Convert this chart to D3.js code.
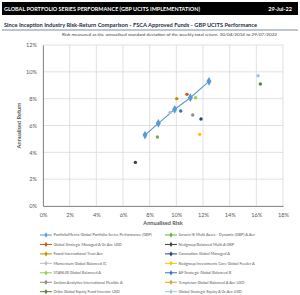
<!DOCTYPE html>
<html><head><meta charset="utf-8">
<script src="https://cdn.jsdelivr.net/npm/d3@7"></script>
<style>
html,body{margin:0;padding:0;background:#fff;}
svg{display:block;font-family:Lato,"Open Sans",sans-serif;}
</style></head>
<body><svg id="c" width="300" height="295"></svg>
<script>
const headerTitle = "GLOBAL PORTFOLIO SERIES PERFORMANCE (GBP UCITS IMPLEMENTATION)";
const headerDate = "29-Jul-22";
const subTitle = "Since Inception Industry Risk-Return Comparison - FSCA Approved Funds - GBP UCITS Performance";
const note = "Risk measured as the annualised standard deviation of the weekly total return, 30/04/2014 to 29/07/2022";
const xTicks = [0,2,4,6,8,10,12,14,16,18];
const yTicks = [0,2,4,6,8,10,12];

// PortfolioMetrix line series (risk %, return %)
const pmRisk = [7.65, 8.65, 9.88, 11.05, 12.45];
const pmReturn = [5.29, 6.16, 7.21, 8.07, 9.29];

// Peer funds
const fundNames = [
  "Global Strategic Managed A Gr Acc USD",
  "Foord International Trust Acc",
  "Momentum Global Balanced IC",
  "STANLIB Global Balanced A",
  "Sanlam Analytics International Flexible A",
  "Orbis Global Equity Fund Investor USD",
  "Sarasin IE Multi Asset - Dynamic (GBP) A Acc",
  "Nedgroup Balanced Multi A GBP",
  "Coronation Global Managed A",
  "Nedgroup Investments Core Global Feeder A",
  "AF Strategic Global Balanced B",
  "Templeton Global Balanced A Acc USD",
  "Global Strategic Equity A Gr Acc USD"
];
const fundRisk =   [10.8, 10.03, 9.53, 11.45, 11.23, 16.3, 8.58, 6.93, 11.85, 11.75, 10.33, null, 16.13];
const fundReturn = [8.32, 8.0,  6.98, 8.07, 6.78, 9.09, 5.14, 3.25, 6.48, 5.34, 7.08, null, 9.71];
const fundColors = ["#C55A11","#BF9000","#BFBFBF","#92D050","#8C8C8C","#548235","#70AD47","#404040","#264478","#FFC000","#2E75B6","#D6A628","#9DC3E6"];

const pmName = "PortfolioMetrix Global Portfolio Series Performance (GBP)";
const pmColor = "#5B9BD5";

const svg = d3.select("#c");
// header
svg.append("rect").attr("x",2).attr("y",2).attr("width",296).attr("height",13).attr("fill","#000");
svg.append("text").attr("x",4).attr("y",11).attr("fill","#fff").attr("font-size",5.6).attr("font-weight","bold")
  .attr("textLength",196).attr("lengthAdjust","spacingAndGlyphs").text(headerTitle);
svg.append("text").attr("x",292).attr("y",11).attr("fill","#fff").attr("font-size",5.6).attr("font-weight","bold")
  .attr("text-anchor","end").text(headerDate);
svg.append("text").attr("x",4).attr("y",27).attr("fill","#1F2A4A").attr("font-size",5.6).attr("font-weight","bold")
  .attr("textLength",253).attr("lengthAdjust","spacingAndGlyphs").text(subTitle);
svg.append("line").attr("x1",2).attr("x2",298).attr("y1",30).attr("y2",30).attr("stroke","#5A6E8C").attr("stroke-width",0.8);
svg.append("text").attr("x",62).attr("y",36).attr("fill","#404040").attr("font-size",4.2)
  .attr("textLength",215).attr("lengthAdjust","spacingAndGlyphs").text(note);

const x = d3.scaleLinear().domain([0,18]).range([43,283]);
const y = d3.scaleLinear().domain([0,12]).range([206,45]);

const g = svg.append("g");
g.selectAll("line.vg").data(xTicks).join("line").attr("x1",d=>x(d)).attr("x2",d=>x(d))
  .attr("y1",y(0)).attr("y2",y(12)).attr("stroke","#D9D9D9").attr("stroke-width",0.8);
g.selectAll("line.hg").data(yTicks).join("line").attr("x1",x(0)).attr("x2",x(18))
  .attr("y1",d=>y(d)).attr("y2",d=>y(d)).attr("stroke","#D9D9D9").attr("stroke-width",0.8);

const xAxis = svg.append("g").attr("transform",`translate(0,${y(0)})`)
  .call(d3.axisBottom(x).tickValues(xTicks).tickSize(0).tickPadding(6).tickFormat(d=>d+"%"));
const yAxis = svg.append("g").attr("transform",`translate(${x(0)},0)`)
  .call(d3.axisLeft(y).tickValues(yTicks).tickSize(0).tickPadding(6).tickFormat(d=>d+"%"));
[xAxis,yAxis].forEach(a=>{
  a.select(".domain").attr("stroke","#808080").attr("stroke-width",0.9);
  a.selectAll("text").attr("fill","#595959").attr("font-size",5.6).attr("font-family","Lato,sans-serif");
});
xAxis.selectAll("text").attr("dy","0.9em");

svg.append("text").attr("x",163).attr("y",225).attr("text-anchor","middle").attr("fill","#595959")
  .attr("font-size",5.6).attr("font-weight","bold").text("Annualised Risk");
svg.append("text").attr("transform",`translate(21,${(y(0)+y(12))/2}) rotate(-90)`).attr("text-anchor","middle")
  .attr("fill","#595959").attr("font-size",5.6).attr("font-weight","bold").text("Annualised Return");

// PM line
const pm = pmRisk.map((r,i)=>[r,pmReturn[i]]);
svg.append("path").datum(pm).attr("fill","none").attr("stroke",pmColor).attr("stroke-width",1.1)
  .attr("d",d3.line().x(d=>x(d[0])).y(d=>y(d[1])));
const diamond = d3.symbol().type(d3.symbolDiamond);
svg.selectAll("path.pm").data(pm).join("path").attr("class","pm")
  .attr("transform",d=>`translate(${x(d[0])},${y(d[1])})`).attr("d",diamond.size(22)()).attr("fill",pmColor);

// fund points
const funds = fundNames.map((n,i)=>({n, r:fundRisk[i], v:fundReturn[i], c:fundColors[i]}));
svg.selectAll("circle.f").data(funds.filter(d=>d.r!=null)).join("circle")
  .attr("cx",d=>x(d.r)).attr("cy",d=>y(d.v)).attr("r",1.7).attr("fill",d=>d.c);

// legend
const legendItems = [{n:pmName,c:pmColor}].concat(funds.map(d=>({n:d.n,c:d.c})));
const order = [0,1,2,3,4,5,6, 7,8,9,10,11,12,13];
const leftNames = [pmName, fundNames[0], fundNames[1], fundNames[2], fundNames[3], fundNames[4], fundNames[5]];
const lg = svg.append("g");
legendItems.forEach((it,i)=>{
  const col = i<7?0:1, row = i%7;
  const lx = col===0?40:165, ly = 235+row*9.45;
  lg.append("line").attr("x1",lx).attr("x2",lx+12).attr("y1",ly).attr("y2",ly).attr("stroke",it.c).attr("stroke-width",1);
  lg.append("path").attr("transform",`translate(${lx+6},${ly})`).attr("d",diamond.size(8)()).attr("fill",it.c);
  lg.append("text").attr("x",lx+13.5).attr("y",ly+1.4).attr("font-size",3.9).attr("fill","#595959").text(it.n);
});
</script></body></html>
